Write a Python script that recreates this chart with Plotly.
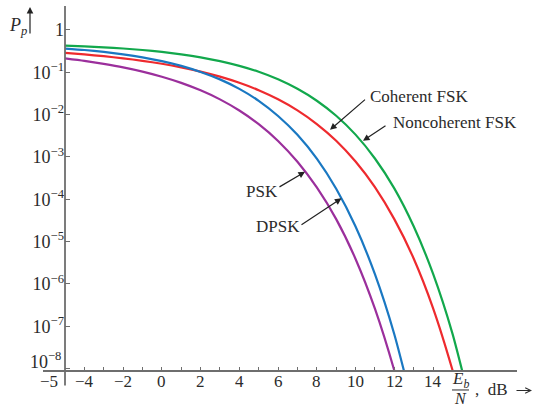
import plotly.graph_objects as go

# ---- data (Eb/N in dB, error probability) ----
x_psk = [-5, -4, -3, -2, -1, 0, 1, 2, 3, 4, 5, 6, 7, 8, 9, 10, 11, 12, 12.5]
p_psk = [0.213, 0.186, 0.158, 0.131, 0.104, 0.0786, 0.0563, 0.0375, 0.0229, 0.0125,
         0.00595, 0.00239, 7.7e-4, 1.9e-4, 3.4e-5, 3.9e-6, 2.6e-7, 9.0e-9, 1.2e-9]

x_dpsk = [-5, -4, -3, -2, -1, 0, 1, 2, 3, 4, 5, 6, 7, 8, 9, 10, 11, 12, 13]
p_dpsk = [0.364, 0.336, 0.303, 0.266, 0.226, 0.184, 0.142, 0.102, 0.068, 0.0406,
          0.0212, 0.0093, 0.00333, 9.1e-4, 1.77e-4, 2.27e-5, 1.7e-6, 6.5e-8, 1.1e-9]

x_cfsk = [-5, -4, -3, -2, -1, 0, 1, 2, 3, 4, 5, 6, 7, 8, 9, 10, 11, 12, 13, 14, 15, 15.5]
p_cfsk = [0.287, 0.264, 0.240, 0.214, 0.187, 0.159, 0.131, 0.104, 0.0788, 0.0565,
          0.0377, 0.0230, 0.0126, 0.0060, 0.00242, 7.8e-4, 1.94e-4, 3.4e-5, 4.0e-6,
          2.7e-7, 9.4e-9, 1.3e-9]

x_nfsk = [-5, -4, -3, -2, -1, 0, 1, 2, 3, 4, 5, 6, 7, 8, 9, 10, 11, 12, 13, 14, 15, 16]
p_nfsk = [0.427, 0.41, 0.389, 0.365, 0.336, 0.303, 0.266, 0.226, 0.184, 0.142,
          0.103, 0.0683, 0.0408, 0.0213, 0.0094, 0.00337, 9.2e-4, 1.81e-4, 2.3e-5,
          1.75e-6, 6.8e-8, 1.1e-9]

x_tick_vals = list(range(-4, 15))
x_label_vals = [-4, -2, 0, 2, 4, 6, 8, 10, 12, 14]
y_tick_vals = [1e-8, 1e-7, 1e-6, 1e-5, 1e-4, 1e-3, 1e-2, 1e-1, 1]
y_tick_text = ["", "10<sup>\u22127</sup>", "10<sup>\u22126</sup>",
               "10<sup>\u22125</sup>", "10<sup>\u22124</sup>", "10<sup>\u22123</sup>",
               "10<sup>\u22122</sup>", "10<sup>\u22121</sup>", "1"]

series = [
    ("Noncoherent FSK", x_nfsk, p_nfsk, "#12a84c"),
    ("Coherent FSK", x_cfsk, p_cfsk, "#ee2a2e"),
    ("DPSK", x_dpsk, p_dpsk, "#1a78c2"),
    ("PSK", x_psk, p_psk, "#9b2f9c"),
]

W, H = 533, 408
L, R, T, B = 65, 517, 6, 371.5


def px(xp):
    return (xp - L) / (R - L)


def py(yp):
    return (B - yp) / (B - T)


FONT = "Liberation Serif"
TXT = "#2b2b2b"
AX = "#6e6e6e"
FS = 17
FSY = 18

fig = go.Figure()
for name, xs, ps, col in series:
    fig.add_trace(go.Scatter(x=xs, y=ps, mode="lines", name=name,
                             line=dict(color=col, width=2.2, shape="spline", smoothing=0.6),
                             hoverinfo="skip"))

annotations = []
# curve labels with arrows: (text, text_x, text_y, tail_x, tail_y, head_x, head_y)
labels = [
    ("Coherent FSK", 368, 97, 366.5, 98.5, 330, 130),
    ("Noncoherent FSK", 391, 123, 387, 125, 363, 141),
    ("PSK", 244, 192, 278, 188, 305, 172),
    ("DPSK", 254, 227, 300, 226, 341.5, 198.5),
]
for text, tx, ty, ax0, ay0, hx, hy in labels:
    annotations.append(dict(x=px(tx), y=py(ty), xref="paper", yref="paper", text=text,
                            showarrow=False, xanchor="left", yanchor="middle",
                            font=dict(family=FONT, size=FS, color=TXT)))
    annotations.append(dict(x=px(hx), y=py(hy), xref="paper", yref="paper", text="",
                            showarrow=True, ax=ax0 - hx, ay=ay0 - hy, arrowhead=2,
                            arrowsize=1.1, arrowwidth=1.2, arrowcolor="#222", standoff=0))

# x tick labels (drawn just below the axis)
for v in x_label_vals:
    annotations.append(dict(x=v, y=py(382), xref="x", yref="paper",
                            text=str(v).replace("-", "\u2212"), showarrow=False,
                            xanchor="center", yanchor="middle",
                            font=dict(family=FONT, size=FS, color=TXT)))
annotations.append(dict(x=px(49), y=py(382), xref="paper", yref="paper",
                        text="\u22125", showarrow=False,
                        xanchor="center", yanchor="middle",
                        font=dict(family=FONT, size=FS, color=TXT)))
# lowest y label sits a little above its tick
annotations.append(dict(x=px(63), y=py(361), xref="paper", yref="paper",
                        text="10<sup>\u22128</sup>", showarrow=False,
                        xanchor="right", yanchor="middle",
                        font=dict(family=FONT, size=FSY, color=TXT)))

# y axis title P_p with arrow
annotations.append(dict(x=px(18), y=py(27), xref="paper", yref="paper",
                        text="<i>P</i><sub><i>p</i></sub>", showarrow=False,
                        xanchor="center", yanchor="middle",
                        font=dict(family=FONT, size=FS + 1, color=TXT)))
annotations.append(dict(x=px(30), y=py(7), xref="paper", yref="paper", text="",
                        showarrow=True, ax=0, ay=28, arrowhead=2, arrowsize=1.1,
                        arrowwidth=1.2, arrowcolor="#222", standoff=0))
# x axis title Eb/N, dB ->
annotations.append(dict(x=px(460), y=py(381), xref="paper", yref="paper",
                        text="<i>E</i><sub><i>b</i></sub>", showarrow=False,
                        xanchor="center", yanchor="middle",
                        font=dict(family=FONT, size=FS, color=TXT)))
annotations.append(dict(x=px(460), y=py(399), xref="paper", yref="paper",
                        text="<i>N</i>", showarrow=False,
                        xanchor="center", yanchor="middle",
                        font=dict(family=FONT, size=FS - 1, color=TXT)))
annotations.append(dict(x=px(473), y=py(390), xref="paper", yref="paper",
                        text=",  dB", showarrow=False,
                        xanchor="left", yanchor="middle",
                        font=dict(family=FONT, size=FS, color=TXT)))
annotations.append(dict(x=px(532), y=py(391), xref="paper", yref="paper", text="",
                        showarrow=True, ax=-17, ay=0, arrowhead=5, arrowsize=1.0,
                        arrowwidth=1.1, arrowcolor=TXT, standoff=0))

shapes = [
    # x axis line (extends left of y axis)
    dict(type="line", xref="paper", yref="paper", x0=px(43), x1=1, y0=0, y1=0,
         line=dict(color=AX, width=1.8)),
    # y axis line (extends below x axis)
    dict(type="line", xref="paper", yref="paper", x0=0, x1=0, y0=py(386), y1=1,
         line=dict(color=AX, width=1.8)),
    # fraction bar
    dict(type="line", xref="paper", yref="paper", x0=px(452), x1=px(469),
         y0=py(390.5), y1=py(390.5), line=dict(color=TXT, width=1)),
]

fig.update_layout(
    width=W, height=H,
    margin=dict(l=L, r=W - R, t=T, b=H - B, pad=0),
    paper_bgcolor="white", plot_bgcolor="white",
    showlegend=False,
    annotations=annotations,
    shapes=shapes,
    xaxis=dict(range=[-5, -5 + (R - L) / 19.37], tickvals=x_tick_vals,
               showticklabels=False,
               ticks="inside", ticklen=4, tickwidth=1.3, tickcolor=AX,
               showgrid=False, zeroline=False, showline=False),
    yaxis=dict(type="log", range=[-8.056, 0.566], tickvals=y_tick_vals, ticktext=y_tick_text,
               ticks="inside", ticklen=5, tickwidth=1.3, tickcolor=AX,
               showgrid=False, zeroline=False, showline=False,
               tickfont=dict(family=FONT, size=FSY, color=TXT)),
)

fig.write_html("out.html", config={"displayModeBar": False},
               post_script="document.body.style.margin='0';")
